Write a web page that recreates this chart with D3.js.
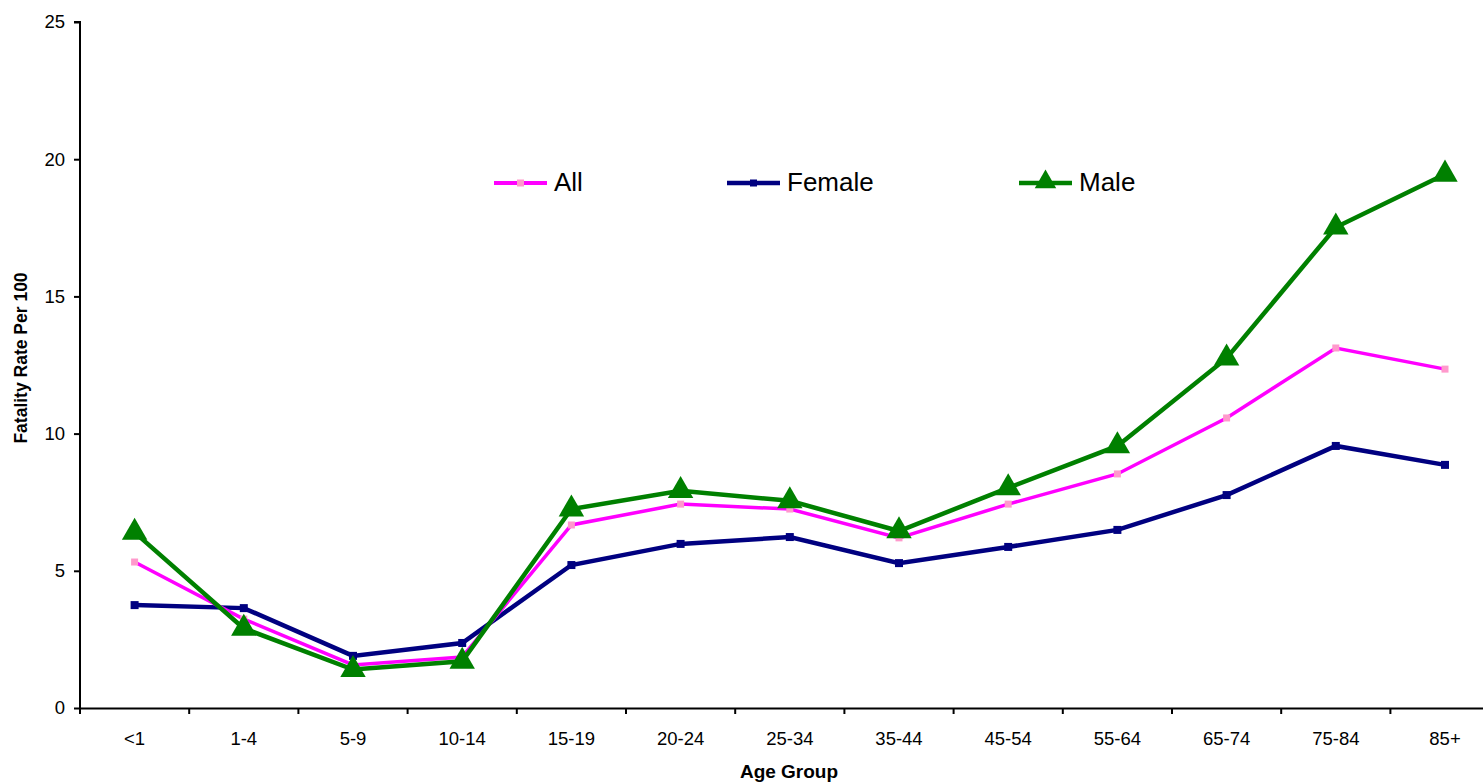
<!DOCTYPE html>
<html><head><meta charset="utf-8">
<script src="https://cdn.jsdelivr.net/npm/d3@7"></script>
<style>body{margin:0;background:#fff}svg{display:block;font-family:"Liberation Sans",Arial,sans-serif}</style>
</head><body><svg id="c" width="1483" height="783"></svg>
<script>
const categories = ["<1","1-4","5-9","10-14","15-19","20-24","25-34","35-44","45-54","55-64","65-74","75-84","85+"];
const allValues = [5.32,3.24,1.57,1.86,6.67,7.43,7.25,6.2,7.43,8.53,10.57,13.12,12.35];
const femaleValues = [3.75,3.64,1.9,2.37,5.21,5.98,6.23,5.28,5.87,6.49,7.76,9.55,8.86];
const maleValues = [6.4,2.9,1.4,1.7,7.25,7.92,7.55,6.45,8.02,9.55,12.75,17.52,19.45];
const yTicks = [0,5,10,15,20,25];

const svg = d3.select("#c");
const x0 = 80, yTop = 22, yBot = 708;
const x = d3.scaleBand().domain(categories).range([x0, x0 + 13*109.2]);
const y = d3.scaleLinear().domain([0,25]).range([yBot, yTop]);
const FS = 18.5;

// y axis
const ya = svg.append("g").attr("transform",`translate(${x0},0)`)
  .call(d3.axisLeft(y).tickValues(yTicks).tickSize(6).tickPadding(9));
ya.select(".domain").attr("stroke","#000").attr("stroke-width",2).attr("d",`M-6,${yTop}H0V${yBot}`);
ya.selectAll(".tick line").attr("stroke","#000").attr("stroke-width",2);
ya.selectAll(".tick text").attr("font-size",FS).attr("fill","#000").attr("font-family","Liberation Sans, Arial, sans-serif");

// x axis
const xa = svg.append("g").attr("transform",`translate(0,${yBot})`)
  .call(d3.axisBottom(x).tickSize(0).tickPadding(24));
xa.select(".domain").attr("stroke","#000").attr("stroke-width",2);
xa.selectAll(".tick text").attr("font-size",FS).attr("fill","#000").attr("font-family","Liberation Sans, Arial, sans-serif");
// category separator ticks
svg.append("g").selectAll("line").data(categories)
  .join("line")
  .attr("x1",d=>x(d) + x.bandwidth()).attr("x2",d=>x(d) + x.bandwidth())
  .attr("y1",yBot).attr("y2",yBot+6).attr("stroke","#000").attr("stroke-width",2);
svg.append("line").attr("x1",x0).attr("x2",x0).attr("y1",yBot).attr("y2",yBot+6).attr("stroke","#000").attr("stroke-width",2);

// titles
svg.append("text").attr("transform",`translate(27,${(yTop+yBot)/2-7}) rotate(-90)`)
  .attr("text-anchor","middle").attr("font-size",17.5).attr("font-weight","bold").text("Fatality Rate Per 100");
svg.append("text").attr("x",789).attr("y",778).attr("text-anchor","middle")
  .attr("font-size",19).attr("font-weight","bold").text("Age Group");

const cx = d => x(d) + x.bandwidth()/2;
const line = vals => d3.line().x((v,i)=>cx(categories[i])).y(v=>y(v))(vals);

// Female
svg.append("path").attr("d",line(femaleValues)).attr("fill","none").attr("stroke","#000080").attr("stroke-width",4.5);
svg.append("g").selectAll("rect").data(femaleValues).join("rect")
  .attr("x",(v,i)=>cx(categories[i])-4).attr("y",v=>y(v)-4).attr("width",8).attr("height",8).attr("fill","#000080");
// All
svg.append("path").attr("d",line(allValues)).attr("fill","none").attr("stroke","#FF00FF").attr("stroke-width",3.5);
svg.append("g").selectAll("rect").data(allValues).join("rect")
  .attr("x",(v,i)=>cx(categories[i])-3.5).attr("y",v=>y(v)-3.5).attr("width",7).attr("height",7).attr("fill","#FF99CC");
// Male
svg.append("path").attr("d",line(maleValues)).attr("fill","none").attr("stroke","#008000").attr("stroke-width",4.5);
const tri = d3.symbol().type(d3.symbolTriangle).size(280);
svg.append("g").selectAll("path").data(maleValues).join("path")
  .attr("d",tri).attr("transform",(v,i)=>`translate(${cx(categories[i])},${y(v)})`).attr("fill","#008000");

// legend
const triL = d3.symbol().type(d3.symbolTriangle).size(200);
const legend = [
  {name:"All", x:494, color:"#FF00FF", sw:4, mk:"sq", mc:"#FF99CC", ms:7},
  {name:"Female", x:727, color:"#000080", sw:4.5, mk:"sq", mc:"#000080", ms:7},
  {name:"Male", x:1019, color:"#008000", sw:4.5, mk:"tri", mc:"#008000"}
];
const lg = svg.append("g");
legend.forEach(l=>{
  const ly = 183;
  lg.append("line").attr("x1",l.x).attr("x2",l.x+53).attr("y1",ly).attr("y2",ly).attr("stroke",l.color).attr("stroke-width",l.sw);
  if(l.mk==="sq") lg.append("rect").attr("x",l.x+26.5-l.ms/2).attr("y",ly-l.ms/2).attr("width",l.ms).attr("height",l.ms).attr("fill",l.mc);
  else lg.append("path").attr("d",triL).attr("transform",`translate(${l.x+26.5},${ly-1})`).attr("fill",l.mc);
  lg.append("text").attr("x",l.x+60).attr("y",ly+8).attr("font-size",26).attr("fill","#000").text(l.name);
});
</script></body></html>
